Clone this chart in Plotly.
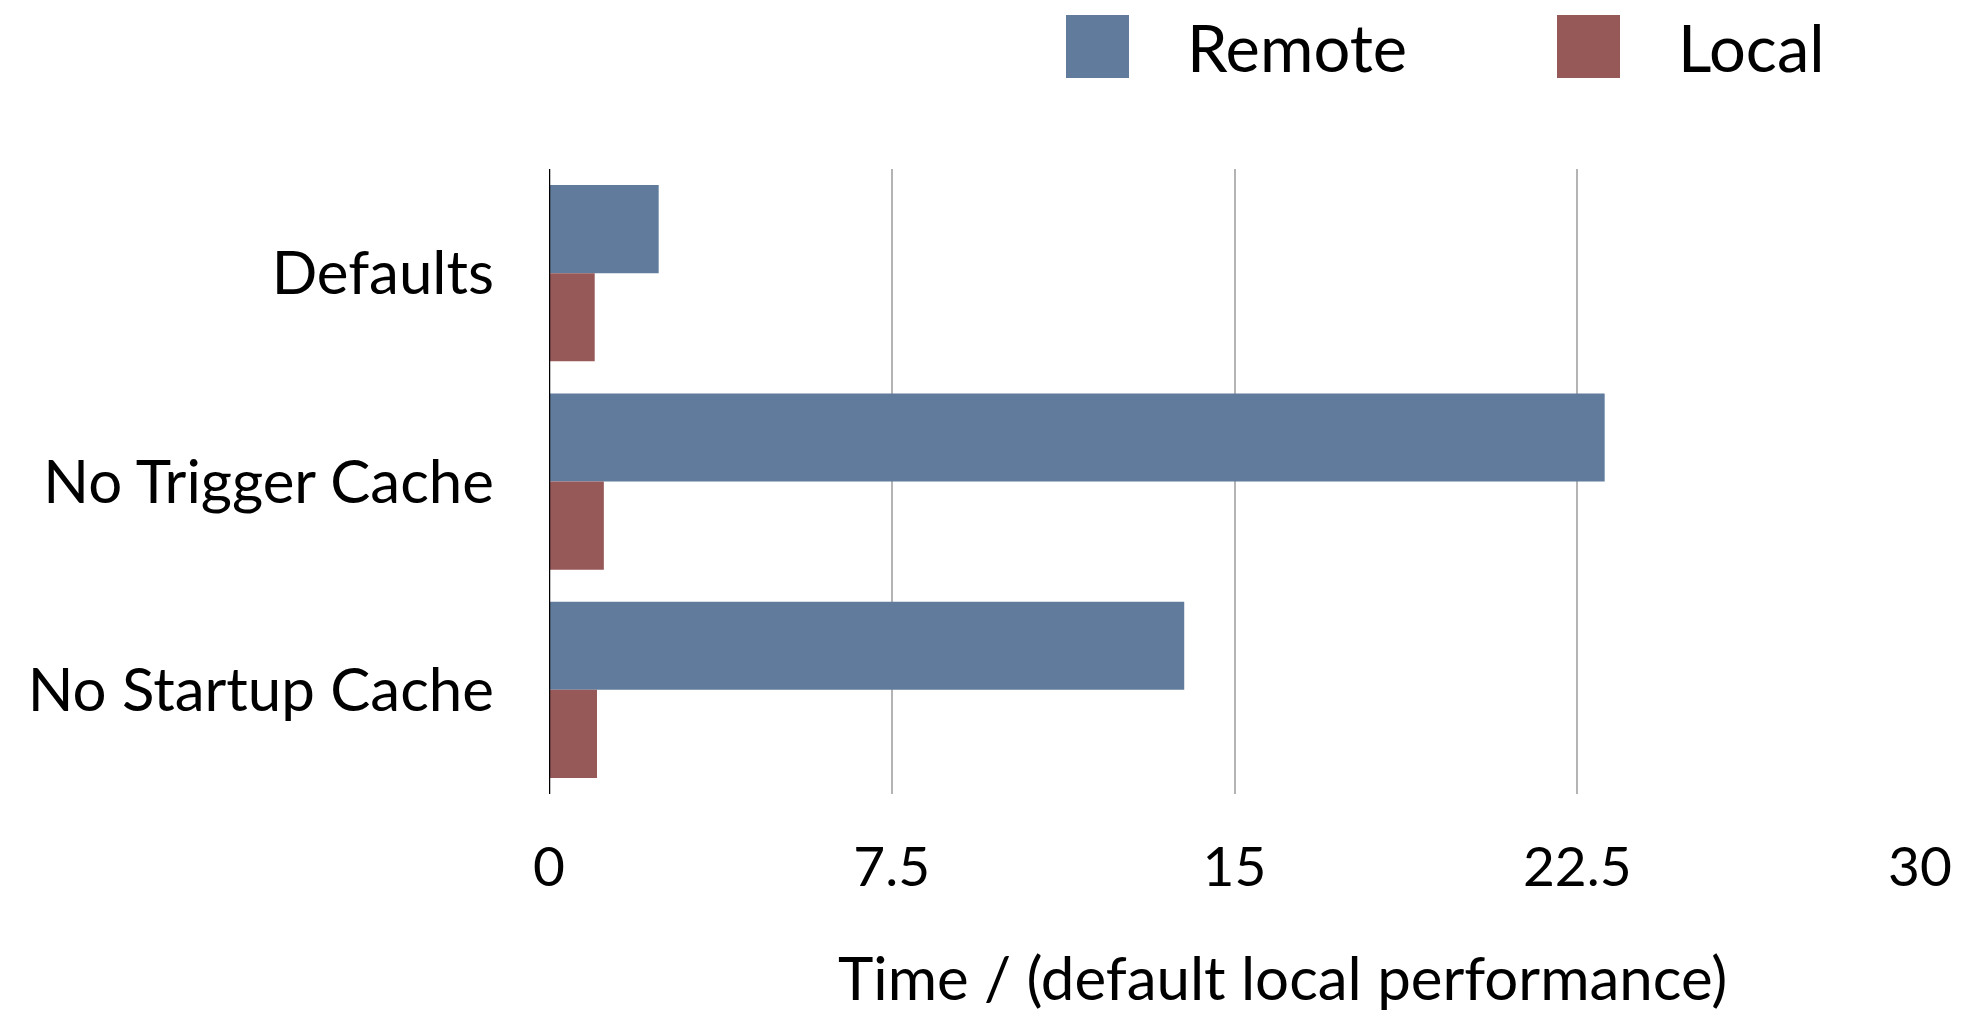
import plotly.graph_objects as go

# Benchmark configurations and normalised run times
categories = ["Defaults", "No Trigger Cache", "No Startup Cache"]
remote_times = [2.4, 23.1, 13.9]
local_times = [1.0, 1.2, 1.05]
x_ticks = [0, 7.5, 15, 22.5, 30]
x_tick_labels = ["0", "7.5", "15", "22.5", "30"]

REMOTE_COLOR = "#607b9b"
LOCAL_COLOR = "#975858"
FONT = "Lato"

fig = go.Figure()
fig.add_trace(go.Bar(
    name="Remote", y=categories, x=remote_times, orientation="h",
    marker=dict(color=REMOTE_COLOR, line=dict(width=0)),
))
fig.add_trace(go.Bar(
    name="Local", y=categories, x=local_times, orientation="h",
    marker=dict(color=LOCAL_COLOR, line=dict(width=0)),
))

W, H = 1969, 1014
ml, mr, mt, mb = 549, 49, 169, 220

fig.update_layout(
    width=W, height=H,
    margin=dict(l=ml, r=mr, t=mt, b=mb, pad=0),
    paper_bgcolor="white", plot_bgcolor="white",
    barmode="group", bargap=0.154, bargroupgap=0,
    showlegend=False,
    font=dict(family=FONT, size=54, color="black"),
)
fig.update_xaxes(
    range=[0, 30], tickvals=x_ticks, ticktext=x_tick_labels,
    showgrid=True, gridcolor="#b4b4b4", gridwidth=2,
    zeroline=False, showline=False, ticks="",
    ticklabelstandoff=36,
    tickfont=dict(family=FONT, size=55),
)
fig.update_yaxes(
    categoryorder="array", categoryarray=categories, autorange="reversed",
    showgrid=False, zeroline=False, ticks="",
    showline=False,
    ticklabelstandoff=54,
    tickfont=dict(family=FONT, size=60),
)

# Vertical axis line at x = 0
fig.add_shape(type="line", xref="x", yref="paper", x0=0, x1=0, y0=0, y1=1,
              line=dict(color="black", width=2.5))

# Axis title
fig.add_annotation(
    text="Time / (default local performance)", xref="paper", yref="paper",
    x=(1282 - ml) / (W - ml - mr), y=-(977 - (H - mb)) / (H - mt - mb),
    xanchor="center", yanchor="middle", showarrow=False,
    font=dict(family=FONT, size=60, color="black"),
)

# Legend: colour swatches with labels across the top
def px_x(v):
    return (v - ml) / (W - ml - mr)

def px_y(v):
    return ((H - mb) - v) / (H - mt - mb)

legend_items = [("Remote", REMOTE_COLOR, 1066, 1185), ("Local", LOCAL_COLOR, 1557, 1676)]
for label, color, sx, tx in legend_items:
    fig.add_shape(type="rect", xref="paper", yref="paper",
                  x0=px_x(sx), x1=px_x(sx + 63), y0=px_y(78), y1=px_y(15),
                  fillcolor=color, line=dict(width=0))
    fig.add_annotation(text=label, xref="paper", yref="paper",
                       x=px_x(tx), y=px_y(47), xanchor="left", yanchor="middle",
                       showarrow=False, font=dict(family=FONT, size=65, color="black"))

fig.write_html("out.html")
